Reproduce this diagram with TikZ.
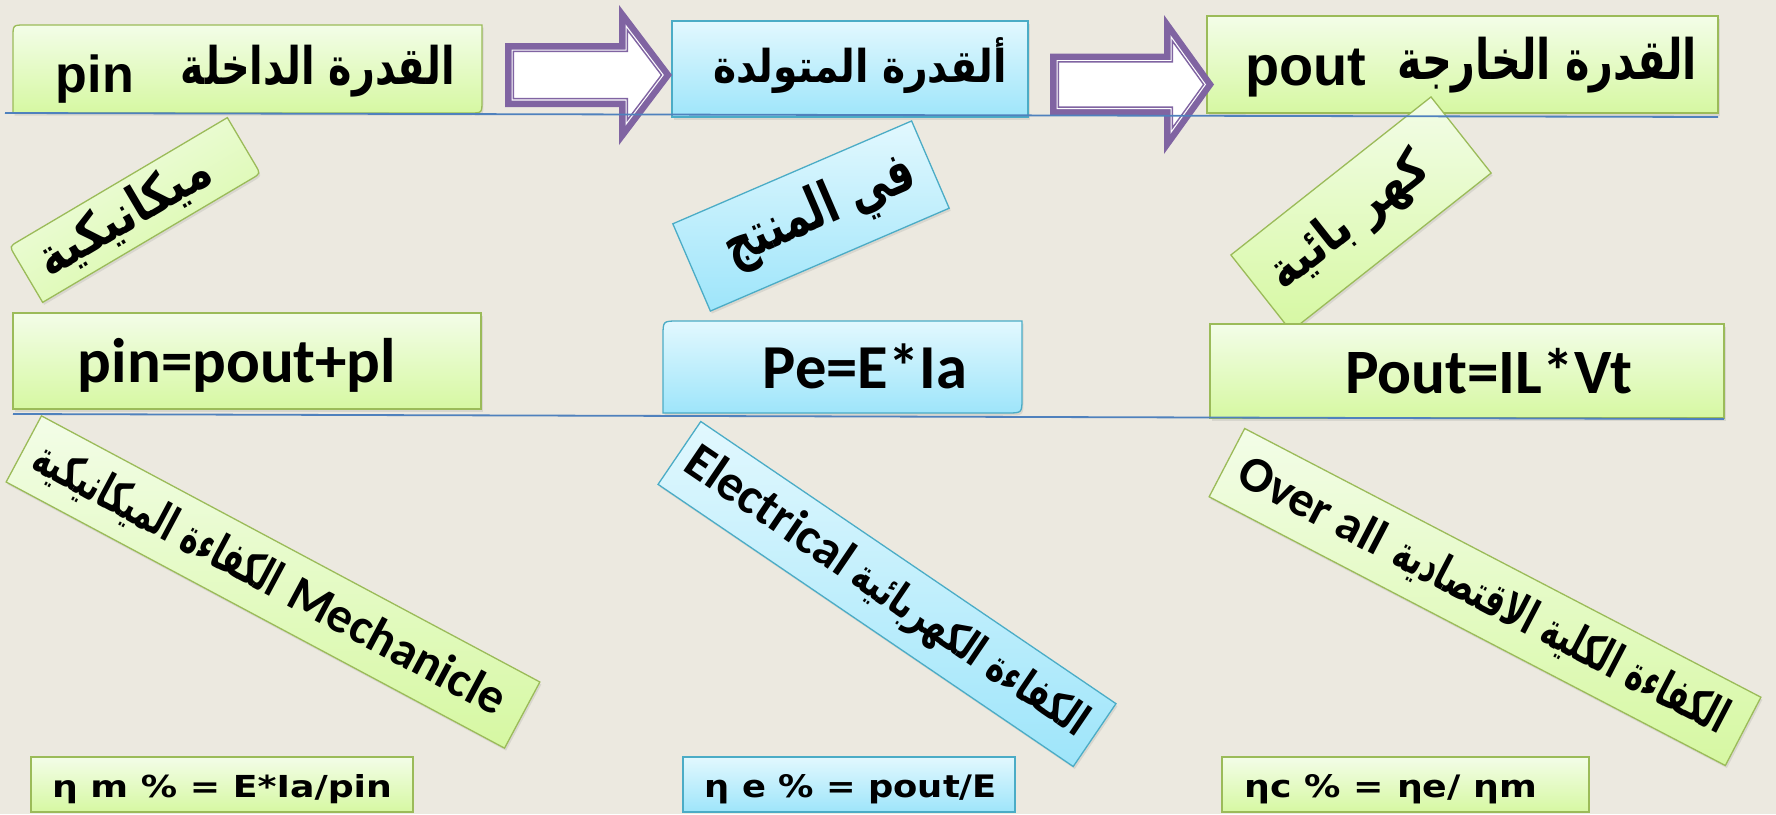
\documentclass[tikz,border=0pt]{standalone}
\usepackage{fontspec}
\usepackage{graphicx}
\TeXXeTstate=1
\newfontfamily\arabicfont[Script=Arabic]{DejaVu Sans}
\newfontfamily\arialfont{Liberation Sans}
\newfontfamily\calibfont{Carlito}
\newfontfamily\verdfont{DejaVu Sans}
\usetikzlibrary{calc,shadows}

\definecolor{bgbeige}{RGB}{236,233,224}
\definecolor{gtop}{RGB}{243,253,232}
\definecolor{gbot}{RGB}{214,248,162}
\definecolor{gline}{RGB}{155,187,89}
\definecolor{ctop}{RGB}{226,248,254}
\definecolor{cbot}{RGB}{158,229,250}
\definecolor{cline}{RGB}{75,172,198}
\definecolor{arrowpurple}{RGB}{128,100,162}
\definecolor{rulecol}{RGB}{79,129,189}

% text scaled to a given width (in pt)
\newcommand\fitw[2]{\resizebox{#1pt}{!}{#2}}
% bold Arabic text scaled to a given width and total height (in pt)
\newcommand\arabfit[3]{\resizebox*{#1pt}{#2pt}{\arabicfont\bfseries #3}}

% box outline with rounded top-left and bottom-right corners, built on a node
\newcommand\diagpath[3]{%
  \path[#3] (#1.north east)
    -- ($(#1.north west)!#2pt!(#1.north east)$)
    .. controls (#1.north west) .. ($(#1.north west)!#2pt!(#1.south west)$)
    -- (#1.south west)
    -- ($(#1.south east)!#2pt!(#1.south west)$)
    .. controls (#1.south east) .. ($(#1.south east)!#2pt!(#1.north east)$)
    -- cycle;}

% block arrow: style, shaft left x, centre y, shaft half height,
% head base x, head half height, tip x, inset
\newcommand\blockarrow[8]{%
  \pgfmathsetmacro\arwA{#7-#5}%
  \pgfmathsetmacro\arwL{sqrt(\arwA*\arwA+#6*#6)}%
  \pgfmathsetmacro\arwQy{#6-#8*(\arwL+#6)/\arwA}%
  \pgfmathsetmacro\arwQx{#7-#8*\arwL/#6}%
  \path[#1] ({#2+#8},{#3-#4+#8}) -- ({#5+#8},{#3-#4+#8})
    -- ({#5+#8},{#3-\arwQy}) -- (\arwQx,#3) -- ({#5+#8},{#3+\arwQy})
    -- ({#5+#8},{#3+#4-#8}) -- ({#2+#8},{#3+#4-#8}) -- cycle;}

\tikzset{
  boxframe/.style={rectangle, inner sep=0pt, outer sep=0pt},
  gfill/.style={draw=gline, line width=1.3pt, top color=gtop, bottom color=gbot},
  cfill/.style={draw=cline, line width=1.3pt, top color=ctop, bottom color=cbot},
  softshadow/.style={drop shadow={shadow xshift=1.5pt, shadow yshift=-2.5pt, opacity=0.18}},
  txt/.style={inner sep=0pt, outer sep=0pt},
  divider/.style={draw=rulecol, line width=1.8pt},
}

\begin{document}
\begin{tikzpicture}[x=1pt, y=-1pt]
\path[use as bounding box, fill=bgbeige] (0,0) rectangle (1776,814);

% ---- top row boxes
\node[boxframe, minimum width=469pt, minimum height=88pt] (A) at (247.5,69) {};
\diagpath{A}{12}{gfill, softshadow}
\node[boxframe, cfill, softshadow, minimum width=356pt, minimum height=96pt] (B) at (850,69) {};
\node[boxframe, gfill, softshadow, minimum width=511pt, minimum height=97pt] (C) at (1462.5,64.5) {};

% ---- tilted labels under the top row
\node[boxframe, minimum width=253pt, minimum height=65pt, rotate=30.6] (M1) at (135,210) {};
\diagpath{M1}{10}{gfill, softshadow, shading angle=30.6}
\node[boxframe, cfill, softshadow, minimum width=260pt, minimum height=95pt, rotate=23.3] (M2) at (811,216) {};
\node[boxframe, gfill, softshadow, minimum width=255pt, minimum height=97pt, rotate=38.3] (M3) at (1361,214) {};

% ---- middle row boxes
\node[boxframe, gfill, softshadow, minimum width=468pt, minimum height=96pt] (D) at (247,361) {};
\node[boxframe, minimum width=359pt, minimum height=92pt] (E) at (842.5,367) {};
\diagpath{E}{15}{cfill, softshadow}
\node[boxframe, gfill, softshadow, minimum width=514pt, minimum height=94pt] (F) at (1467,371) {};

% ---- tilted efficiency labels
\node[boxframe, gfill, softshadow, minimum width=565pt, minimum height=75pt, rotate=-28.1] (L1) at (273,582) {};
\node[boxframe, cfill, softshadow, minimum width=502pt, minimum height=76pt, rotate=-34.2] (L2) at (887,594) {};
\node[boxframe, gfill, softshadow, minimum width=582pt, minimum height=77pt, rotate=-27.5] (L3) at (1485,597) {};

% ---- bottom formula boxes
\node[boxframe, gfill, minimum width=382pt, minimum height=55pt] (G1) at (222,784.5) {};
\node[boxframe, cfill, minimum width=332pt, minimum height=55pt] (G2) at (849,784.5) {};
\node[boxframe, gfill, minimum width=367pt, minimum height=55pt] (G3) at (1405.5,784.5) {};

% ---- block arrows between the top boxes
\blockarrow{fill=arrowpurple}{505}{75}{32}{619}{70}{672}{0}
\blockarrow{fill=white}{505}{75}{32}{619}{70}{672}{6.5}
\blockarrow{draw=arrowpurple, line width=1.4pt}{505}{75}{32}{619}{70}{672}{8.4}
\blockarrow{fill=arrowpurple}{1050}{84.5}{31}{1164}{69.5}{1214}{0}
\blockarrow{fill=white}{1050}{84.5}{31}{1164}{69.5}{1214}{6.5}
\blockarrow{draw=arrowpurple, line width=1.4pt}{1050}{84.5}{31}{1164}{69.5}{1214}{8.4}

% ---- texts, top row
\node[txt, anchor=base] (tA1) at (95,92) {\fitw{78}{\arialfont\bfseries pin}};
\node[txt, anchor=base] (tA2) at (318,84) {\arabfit{274}{52}{\beginR القدرة الداخلة\endR}};
\node[txt, anchor=base] (tB) at (860,82) {\arabfit{294}{56}{\beginR ألقدرة المتولدة\endR}};
\node[txt, anchor=base] (tC1) at (1305.5,85) {\fitw{121}{\arialfont\bfseries pout}};
\node[txt, anchor=base] (tC2) at (1547,79) {\arabfit{300}{56}{\beginR القدرة الخارجة\endR}};

% ---- texts, upper tilted labels
\node[txt, rotate=30.6] (tM1) at (125,216) {\arabfit{193}{48}{\beginR ميكانيكية\endR}};
\node[txt, rotate=23.3] (tM2) at (820,212) {\arabfit{203}{58}{\beginR في المنتج\endR}};
\node[txt, rotate=38.3] (tM3) at (1350,223) {\arabfit{190}{50}{\beginR كهر بائية\endR}};

% ---- texts, middle row
\node[txt, anchor=base] (tD) at (237,382) {\fitw{318}{\calibfont\bfseries pin=pout+pl}};
\node[txt, anchor=base] (tE) at (865,388) {\fitw{204}{\calibfont\bfseries Pe=E*Ia}};
\node[txt, anchor=base] (tF) at (1488.5,393) {\fitw{287}{\calibfont\bfseries Pout=IL*Vt}};

% ---- texts, efficiency labels
\node[txt, rotate=-28.1] (tL1) at (269,580)
  {\arabfit{275}{44}{\beginR الكفاءة الميكانيكية\endR}\hspace{14pt}\fitw{239}{\calibfont\bfseries Mechanicle}};
\node[txt, rotate=-34.2] (tL2) at (886,593)
  {\fitw{192}{\calibfont\bfseries Electrical}\hspace{10pt}\arabfit{275}{44}{\beginR الكفاءة الكهربائية\endR}};
\node[txt, rotate=-27.5] (tL3) at (1483,596)
  {\fitw{160}{\calibfont\bfseries Over all}\hspace{15pt}\arabfit{371}{44}{\beginR الكفاءة الكلية الاقتصادية\endR}};

% ---- texts, bottom formulas
\node[txt, anchor=base] (tG1) at (222,797) {\resizebox{340pt}{23pt}{\verdfont\bfseries η m \% = E*Ia/pin}};
\node[txt, anchor=base] (tG2) at (851,797) {\resizebox{292pt}{23pt}{\verdfont\bfseries η e \% = pout/E}};
\node[txt, anchor=base] (tG3) at (1391,797) {\resizebox{292pt}{23pt}{\verdfont\bfseries ηc \% = ηe/ ηm}};

% ---- horizontal rules
\coordinate (r1a) at (5,113);
\coordinate (r1b) at (1718,117);
\coordinate (r2a) at (13,414);
\coordinate (r2b) at (1724,419);
\draw[divider] (r1a) -- (r1b);
\draw[divider] (r2a) -- (r2b);
\end{tikzpicture}
\end{document}
